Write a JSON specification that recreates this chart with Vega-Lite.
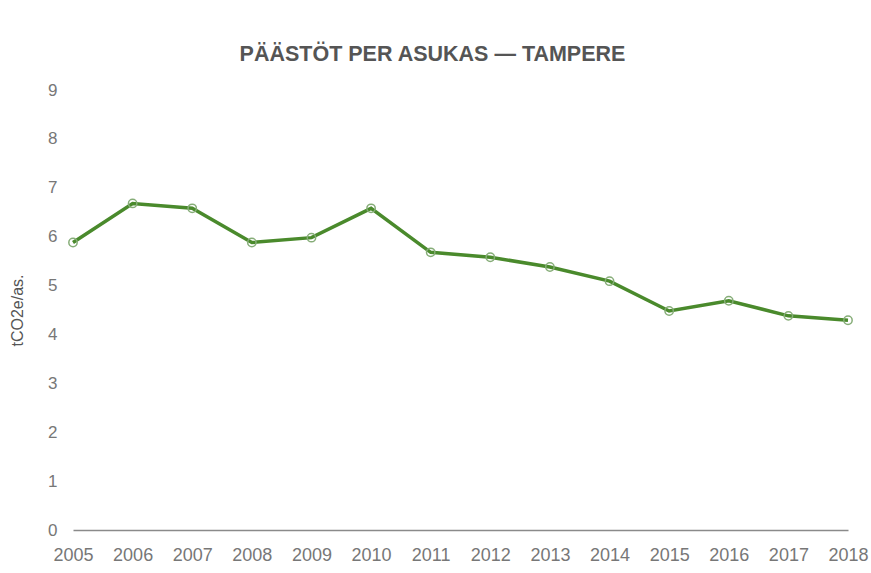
{
  "$schema": "https://vega.github.io/schema/vega-lite/v6.json",
  "width": 775,
  "height": 440,
  "autosize": {"type": "none"},
  "padding": {"left": 73, "top": 90, "right": 23, "bottom": 43},
  "background": "white",
  "config": {"view": {"stroke": null}, "font": "Liberation Sans"},
  "title": {
    "text": "PÄÄSTÖT PER ASUKAS — TAMPERE",
    "fontSize": 21.5,
    "fontWeight": "bold",
    "color": "#555555",
    "anchor": "middle",
    "frame": "group",
    "dx": -28,
    "offset": 16
  },
  "data": {
    "values": [
      {"year": "2005", "value": 5.88},
      {"year": "2006", "value": 6.68},
      {"year": "2007", "value": 6.58},
      {"year": "2008", "value": 5.88},
      {"year": "2009", "value": 5.98},
      {"year": "2010", "value": 6.58},
      {"year": "2011", "value": 5.68},
      {"year": "2012", "value": 5.58},
      {"year": "2013", "value": 5.38},
      {"year": "2014", "value": 5.09},
      {"year": "2015", "value": 4.48},
      {"year": "2016", "value": 4.69},
      {"year": "2017", "value": 4.38},
      {"year": "2018", "value": 4.29}
    ]
  },
  "encoding": {
    "x": {
      "field": "year",
      "type": "ordinal",
      "scale": {"type": "point", "padding": 0},
      "axis": {
        "title": null,
        "labelAngle": 0,
        "ticks": false,
        "domain": true,
        "domainColor": "#8a8a8a",
        "domainWidth": 1.5,
        "labelPadding": 16,
        "labelFontSize": 18,
        "labelColor": "#777777"
      }
    },
    "y": {
      "field": "value",
      "type": "quantitative",
      "scale": {"domain": [0, 9], "nice": false},
      "axis": {
        "values": [0, 1, 2, 3, 4, 5, 6, 7, 8, 9],
        "ticks": false,
        "domain": false,
        "grid": false,
        "labelPadding": 16,
        "labelFontSize": 17,
        "labelColor": "#777777",
        "title": "tCO2e/as.",
        "titleFontSize": 16,
        "titleFontWeight": "normal",
        "titleColor": "#555555",
        "titlePadding": 22
      }
    }
  },
  "layer": [
    {"mark": {"type": "line", "color": "#4a8a2c", "strokeWidth": 3.5}},
    {"mark": {"type": "point", "shape": "circle", "filled": false, "stroke": "#86ad78", "strokeWidth": 1.5, "size": 70, "opacity": 1}}
  ]
}
